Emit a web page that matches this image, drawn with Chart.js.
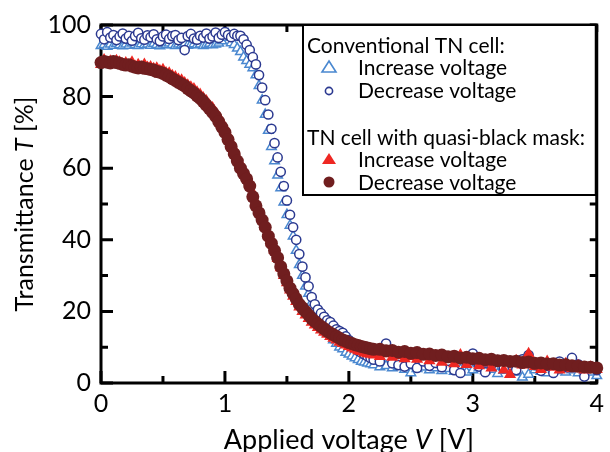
<!DOCTYPE html>
<html>
<head>
<meta charset="utf-8">
<script src="https://cdn.jsdelivr.net/npm/chart.js@4"></script>
<style>
html,body{margin:0;padding:0;background:#fff;}
canvas{display:block;}
</style>
</head>
<body>
<canvas id="c" width="610" height="452"></canvas>
<script>
// Applied voltage V [V]
const voltage = [
  0,0.025,0.05,0.075,0.1,0.125,0.15,0.175,
  0.2,0.225,0.25,0.275,0.3,0.325,0.35,0.375,
  0.4,0.425,0.45,0.475,0.5,0.525,0.55,0.575,
  0.6,0.625,0.65,0.675,0.7,0.725,0.75,0.775,
  0.8,0.825,0.85,0.875,0.9,0.925,0.95,0.975,
  1.0,1.025,1.05,1.075,1.1,1.125,1.15,1.175,
  1.2,1.225,1.25,1.275,1.3,1.325,1.35,1.375,
  1.4,1.425,1.45,1.475,1.5,1.525,1.55,1.575,
  1.6,1.625,1.65,1.675,1.7,1.725,1.75,1.775,
  1.8,1.825,1.85,1.875,1.9,1.925,1.95,1.975,
  2.0,2.025,2.05,2.075,2.1,2.125,2.15,2.175,
  2.2,2.25,2.3,2.35,2.4,2.45,2.5,2.55,
  2.6,2.65,2.7,2.75,2.8,2.85,2.9,2.95,
  3.0,3.05,3.1,3.15,3.2,3.25,3.3,3.35,
  3.4,3.45,3.5,3.55,3.6,3.65,3.7,3.75,
  3.8,3.85,3.9,3.95,4.0
];
// Conventional TN cell, increase voltage (open triangles)
const convInc = [
  94.2,94.5,94.0,94.6,94.3,94.8,94.4,94.1,
  94.6,94.3,94.9,94.5,94.2,94.7,94.4,94.6,
  94.3,94.8,94.5,94.1,94.6,94.4,94.9,94.5,
  94.2,94.6,94.4,94.8,94.3,94.5,94.7,94.4,
  94.6,94.2,94.5,94.8,94.4,94.6,94.9,95.5,
  96.5,97.5,95.0,94.5,93.5,92.5,91.0,90.0,
  89.0,88.0,86.0,83.0,79.0,75.0,70.5,66.0,
  62.0,58.0,54.5,50.5,47.0,44.0,41.0,37.0,
  33.0,30.0,27.0,25.0,22.5,20.5,18.5,17.0,
  15.5,14.0,13.0,12.0,11.0,10.0,9.5,8.5,
  8.0,7.5,7.0,6.5,6.0,5.8,5.5,5.3,
  5.0,4.5,4.8,4.2,4.6,3.8,2.8,4.0,
  4.4,3.6,4.2,3.4,4.0,3.2,3.8,3.0,
  3.6,4.2,3.4,3.8,2.6,3.5,3.9,3.0,
  1.6,2.4,3.6,3.2,2.8,3.8,3.4,3.0,
  3.6,2.8,3.4,3.0,2.0
];
// Conventional TN cell, decrease voltage (open circles)
const convDec = [
  97.5,96.0,98.0,96.5,97.2,95.8,96.8,97.6,
  96.2,97.0,95.6,96.9,97.8,96.3,95.9,97.1,
  96.6,97.4,96.0,95.5,96.8,97.3,96.1,96.9,
  97.2,95.8,96.4,93.0,96.9,97.5,96.2,95.9,
  97.0,96.5,97.6,96.2,96.8,97.9,96.4,97.3,
  98.0,97.2,96.6,97.5,97.0,97.0,96.0,94.5,
  93.0,91.0,89.0,86.0,82.5,79.0,75.0,71.0,
  67.0,63.0,59.0,55.0,51.0,47.0,43.5,40.0,
  36.0,32.5,29.5,27.0,24.0,22.0,20.5,19.5,
  18.5,17.5,17.0,16.0,15.0,14.5,14.0,13.0,
  12.0,11.0,10.0,9.0,8.5,8.0,7.5,7.0,
  6.5,6.0,11.0,5.5,5.0,4.6,5.4,4.2,
  6.0,4.8,5.6,4.4,6.2,3.6,2.8,5.8,
  8.2,4.6,3.0,5.2,6.4,4.2,5.8,3.6,
  6.6,7.8,5.0,3.4,4.8,2.8,6.0,4.4,
  7.0,5.2,1.8,4.6,3.6
];
// TN cell with quasi-black mask, increase voltage (filled triangles)
const maskInc = [
  89.0,90.2,89.4,89.9,89.2,90.0,89.6,89.1,
  89.4,88.6,89.6,88.4,88.9,88.2,89.0,88.1,
  88.3,87.8,87.9,87.2,87.5,86.6,86.5,85.8,
  85.5,84.8,84.6,83.8,83.2,82.6,82.1,81.2,
  80.6,79.6,78.8,77.6,76.8,75.5,74.3,72.6,
  71.2,69.2,67.2,65.2,63.0,61.2,59.4,57.6,
  55.6,53.0,50.5,48.0,46.0,43.8,41.5,39.2,
  37.0,34.8,32.2,30.0,28.0,26.0,24.2,22.8,
  21.2,20.0,19.0,18.0,17.0,16.2,15.5,14.8,
  14.2,13.6,13.0,12.5,12.0,11.4,11.0,10.6,
  10.2,9.8,9.4,9.0,8.8,8.4,8.2,8.0,
  7.8,7.4,8.2,7.2,7.6,6.8,7.4,6.6,
  7.4,6.2,7.2,5.8,6.6,5.4,7.8,5.2,
  6.4,4.8,5.6,4.2,5.8,3.6,2.4,6.2,
  5.0,8.2,4.6,3.8,6.0,4.4,3.6,5.4,
  4.0,4.8,3.6,4.4,3.8
];
// TN cell with quasi-black mask, decrease voltage (filled circles)
const maskDec = [
  89.5,89.8,89.6,89.4,89.8,89.5,89.3,89.0,
  88.8,88.9,88.5,88.2,88.0,88.3,87.9,87.8,
  87.6,87.4,87.0,86.8,86.5,86.0,85.6,85.0,
  84.5,84.0,83.5,83.0,82.2,81.6,81.0,80.2,
  79.5,78.6,77.6,76.6,75.6,74.5,73.0,71.5,
  70.0,68.0,66.0,64.0,62.0,60.0,58.5,57.0,
  55.0,52.0,49.5,47.5,45.5,43.5,41.0,39.0,
  37.0,35.0,32.5,30.5,28.5,26.5,25.0,23.5,
  22.0,21.0,20.0,19.0,18.0,17.2,16.5,15.8,
  15.2,14.5,14.0,13.5,13.0,12.5,12.0,11.7,
  11.3,11.0,10.7,10.5,10.2,10.0,9.8,9.6,
  9.4,9.4,9.0,9.1,8.6,8.8,8.3,8.5,
  8.0,8.1,7.7,7.8,7.3,7.5,7.0,7.2,
  6.8,6.9,6.5,6.6,6.2,6.3,6.0,6.1,
  5.7,5.9,5.5,5.6,5.3,5.4,5.0,5.1,
  4.8,4.7,4.5,4.4,4.2
];
const xTicks = [0,1,2,3,4];
const yTicks = [0,20,40,60,80,100];
const xMinor = [0.5,1.5,2.5,3.5];
const yMinor = [10,30,50,70,90];

const legendRows = [
  {kind:'head', text:'Conventional TN cell:'},
  {kind:'item', text:'Increase voltage', marker:'triOpen'},
  {kind:'item', text:'Decrease voltage', marker:'circOpen'},
  {kind:'head', text:'TN cell with quasi-black mask:'},
  {kind:'item', text:'Increase voltage', marker:'triFill'},
  {kind:'item', text:'Decrease voltage', marker:'circFill'}
];

const FONT = 'Lato, "Open Sans", sans-serif';
const C_TRI_BLUE = '#4a88d0';
const C_CIRC_BLUE = '#2b3990';
const C_TRI_RED = '#ee2722';
const C_CIRC_RED = '#701e1f';

function pts(vals){ return voltage.map((v,i)=>({x:v, y:vals[i]})); }

const framePlugin = {
  id:'frame',
  beforeDatasetsDraw(chart){
    const ctx = chart.ctx, a = chart.chartArea;
    const xs = chart.scales.x, ys = chart.scales.y;
    ctx.save();
    ctx.strokeStyle = '#000';
    ctx.lineWidth = 3;
    ctx.lineCap = 'butt';
    ctx.beginPath();
    ctx.rect(a.left, a.top, a.right - a.left, a.bottom - a.top);
    ctx.stroke();
    ctx.beginPath();
    xTicks.forEach(v=>{ const p = xs.getPixelForValue(v);
      ctx.moveTo(p, a.bottom); ctx.lineTo(p, a.bottom - 12);
      ctx.moveTo(p, a.top); ctx.lineTo(p, a.top + 7); });
    xMinor.forEach(v=>{ const p = xs.getPixelForValue(v);
      ctx.moveTo(p, a.bottom); ctx.lineTo(p, a.bottom - 7);
      ctx.moveTo(p, a.top); ctx.lineTo(p, a.top + 7); });
    yTicks.forEach(v=>{ const p = ys.getPixelForValue(v);
      ctx.moveTo(a.left, p); ctx.lineTo(a.left + 12, p);
      ctx.moveTo(a.right, p); ctx.lineTo(a.right - 7, p); });
    yMinor.forEach(v=>{ const p = ys.getPixelForValue(v);
      ctx.moveTo(a.left, p); ctx.lineTo(a.left + 7, p);
      ctx.moveTo(a.right, p); ctx.lineTo(a.right - 7, p); });
    ctx.stroke();
    ctx.restore();
  },
  afterDatasetsDraw(chart){
    const ctx = chart.ctx, a = chart.chartArea;
    ctx.save();
    // legend box
    const bx = 303, by = a.top, bw = a.right - 1 - 303, bh = 195 - a.top;
    ctx.fillStyle = '#fff';
    ctx.fillRect(bx, by, bw, bh);
    ctx.strokeStyle = '#000';
    ctx.lineWidth = 2;
    ctx.strokeRect(bx, by, bw, bh);
    ctx.font = '21px ' + FONT;
    ctx.textBaseline = 'alphabetic';
    ctx.textAlign = 'left';
    const baselines = [53,75,98,145,167,190];
    legendRows.forEach((r,i)=>{
      const yb = baselines[i];
      ctx.fillStyle = '#000';
      if (r.kind === 'head') { ctx.fillText(r.text, 307, yb); return; }
      ctx.fillText(r.text, 358, yb);
      const mx = 329, my = yb - 8;
      ctx.lineWidth = 1.6;
      if (r.marker === 'triOpen' || r.marker === 'triFill') {
        ctx.beginPath();
        ctx.moveTo(mx, my - 6); ctx.lineTo(mx + 7, my + 5); ctx.lineTo(mx - 7, my + 5); ctx.closePath();
        if (r.marker === 'triOpen') { ctx.strokeStyle = C_TRI_BLUE; ctx.stroke(); }
        else { ctx.fillStyle = C_TRI_RED; ctx.fill(); }
      } else {
        ctx.beginPath();
        if (r.marker === 'circOpen') { ctx.arc(mx, my + 1, 3.6, 0, Math.PI*2); ctx.strokeStyle = C_CIRC_BLUE; ctx.stroke(); }
        else { ctx.arc(mx, my, 5.5, 0, Math.PI*2); ctx.fillStyle = C_CIRC_RED; ctx.fill(); }
      }
    });
    // axis titles with italic symbols
    function mixed(parts, size){
      let w = 0;
      parts.forEach(p=>{ ctx.font = (p.it ? 'italic ' : '') + size + 'px ' + FONT; p.w = ctx.measureText(p.t).width; w += p.w; });
      return w;
    }
    ctx.fillStyle = '#000';
    const xp = [{t:'Applied voltage '},{t:'V',it:true},{t:' [V]'}];
    const wx = mixed(xp, 27);
    let cx = (a.left + a.right)/2 - wx/2;
    xp.forEach(p=>{ ctx.font = (p.it ? 'italic ' : '') + '27px ' + FONT; ctx.fillText(p.t, cx, 449); cx += p.w; });
    const yp = [{t:'Transmittance '},{t:'T',it:true},{t:' [%]'}];
    const wy = mixed(yp, 25);
    ctx.translate(33, (a.top + a.bottom)/2);
    ctx.rotate(-Math.PI/2);
    let cy = -wy/2;
    yp.forEach(p=>{ ctx.font = (p.it ? 'italic ' : '') + '25px ' + FONT; ctx.fillText(p.t, cy, 0); cy += p.w; });
    ctx.restore();
  }
};

new Chart(document.getElementById('c'), {
  type:'scatter',
  data:{
    datasets:[
      {label:'Mask decrease', data:pts(maskDec), pointStyle:'circle', pointRadius:6.5,
       backgroundColor:C_CIRC_RED, borderColor:C_CIRC_RED, borderWidth:0, clip:false},
      {label:'Mask increase', data:pts(maskInc), pointStyle:'triangle', pointRadius:7,
       backgroundColor:C_TRI_RED, borderColor:C_TRI_RED, borderWidth:0, clip:false},
      {label:'Conventional decrease', data:pts(convDec), pointStyle:'circle', pointRadius:4.6,
       backgroundColor:'#fff', borderColor:C_CIRC_BLUE, borderWidth:1.5, clip:false},
      {label:'Conventional increase', data:pts(convInc), pointStyle:'triangle', pointRadius:5.5,
       backgroundColor:'#fff', borderColor:C_TRI_BLUE, borderWidth:1.5, clip:false}
    ]
  },
  options:{
    responsive:false,
    animation:false,
    layout:{padding:{top:25, right:13, left:0, bottom:0}},
    plugins:{legend:{display:false}, tooltip:{enabled:false}},
    elements:{point:{hoverRadius:0}},
    scales:{
      x:{type:'linear', min:0, max:4,
         grid:{display:false, drawTicks:false}, border:{display:false},
         ticks:{stepSize:1, color:'#000', padding:6, font:{family:FONT, size:25}, maxRotation:0},
         afterFit(s){ s.height = 69; }},
      y:{type:'linear', min:0, max:100,
         grid:{display:false, drawTicks:false}, border:{display:false},
         ticks:{stepSize:20, color:'#000', padding:10, font:{family:FONT, size:25}},
         afterFit(s){ s.width = 101; }}
    }
  },
  plugins:[framePlugin]
});
</script>
</body>
</html>
